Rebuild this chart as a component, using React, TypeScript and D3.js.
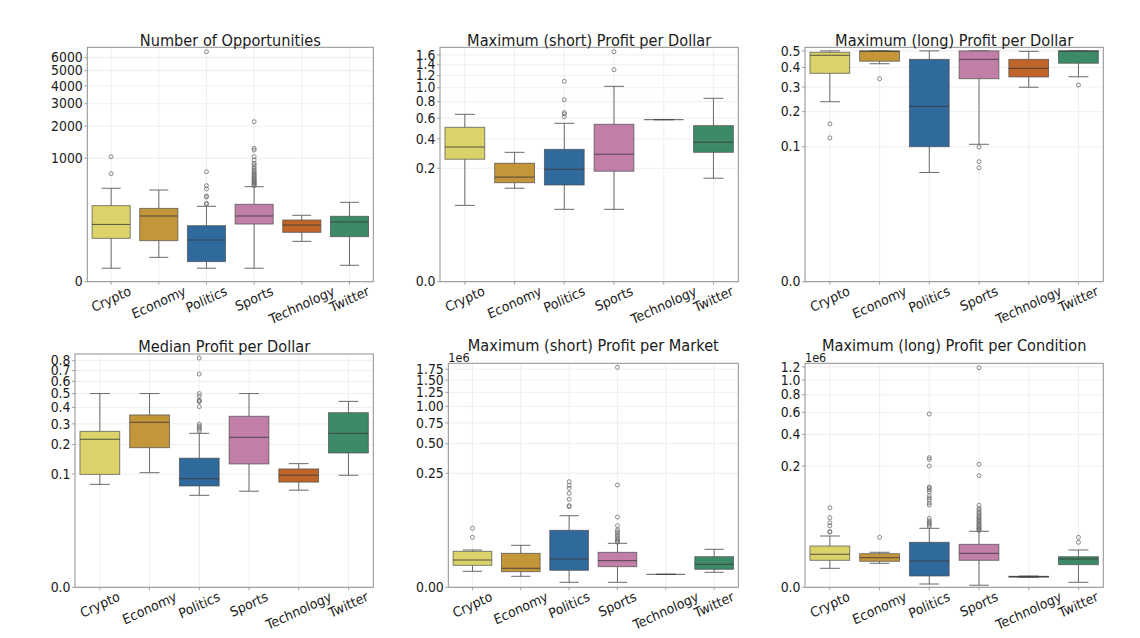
import React from 'react';
import * as d3 from 'd3';

// categories shared by all six panels
const categories = ['Crypto', 'Economy', 'Politics', 'Sports', 'Technology', 'Twitter'];
const palette = ['#dbd36a', '#c4963a', '#30699c', '#c17fa8', '#c0652a', '#3c8a67'];

// box stats per category: [whisker low, q1, median, q3, whisker high]
const opportunitiesStats = [
  [1.3, 43.5, 100, 234, 434],
  [7.7, 36.7, 151, 210, 410],
  [1.3, 4.3, 38.6, 93.5, 228],
  [1.3, 102, 151, 247, 456],
  [35, 64, 97, 125, 156],
  [2.35, 48.5, 113, 149, 266],
];
const opportunitiesOutliers = [
  [670, 1040],
  [],
  [247, 256, 323, 335, 424, 471, 708, 6475],
  [470, 480, 495, 507, 520, 535, 550, 565, 580, 600, 620, 640, 660, 685, 710, 740, 770, 809, 850, 883, 959, 1040, 1215, 1263, 2180],
  [],
  [],
];
const opportunitiesTicks = [0, 1000, 2000, 3000, 4000, 5000, 6000];

const shortDollarStats = [
  [0.061, 0.252, 0.335, 0.505, 0.643],
  [0.112, 0.133, 0.157, 0.228, 0.297],
  [0.052, 0.124, 0.195, 0.318, 0.545],
  [0.052, 0.185, 0.284, 0.535, 1.023],
  [0.583, 0.583, 0.583, 0.583, 0.583],
  [0.152, 0.297, 0.372, 0.521, 0.846],
];
const shortDollarOutliers = [[], [], [0.616, 0.647, 0.662, 0.827, 1.104], [1.307, 1.669], [], []];
const shortDollarTicks = [0, 0.2, 0.4, 0.6, 0.8, 1.0, 1.2, 1.4, 1.6];

const longDollarStats = [
  [0.237, 0.368, 0.472, 0.491, 0.5],
  [0.421, 0.436, 0.497, 0.5, 0.5],
  [0.053, 0.1, 0.219, 0.447, 0.5],
  [0.1055, 0.34, 0.447, 0.5, 0.5],
  [0.299, 0.349, 0.395, 0.447, 0.497],
  [0.35, 0.424, 0.499, 0.5, 0.5],
];
const longDollarOutliers = [[0.121, 0.16], [0.34], [], [0.0602, 0.0703, 0.0995], [], [0.3095]];
const longDollarTicks = [0, 0.1, 0.2, 0.3, 0.4, 0.5];

const medianDollarStats = [
  [0.075, 0.099, 0.223, 0.261, 0.5],
  [0.1035, 0.187, 0.309, 0.352, 0.5],
  [0.0535, 0.0715, 0.088, 0.148, 0.251],
  [0.061, 0.129, 0.232, 0.344, 0.5],
  [0.063, 0.08, 0.097, 0.114, 0.13],
  [0.0966, 0.1666, 0.251, 0.366, 0.442],
];
const medianDollarOutliers = [
  [],
  [],
  [0.262, 0.271, 0.28, 0.288, 0.298, 0.405, 0.44, 0.444, 0.45, 0.481, 0.5, 0.667, 0.829],
  [],
  [],
  [],
];
const medianDollarTicks = [0, 0.1, 0.2, 0.3, 0.4, 0.5, 0.6, 0.7, 0.8];

const shortMarketStats = [
  [690, 1800, 3430, 7870, 8760],
  [225, 640, 1160, 6630, 12500],
  [21, 830, 3830, 31250, 61900],
  [21, 1475, 3180, 7230, 14370],
  [371, 371, 371, 371, 371],
  [570, 985, 2050, 4840, 9260],
];
const shortMarketOutliers = [
  [21100, 34700],
  [],
  [88400, 92000, 115000, 140000, 164000, 179000, 199000],
  [15500, 16500, 17900, 19500, 21900, 24000, 26600, 29000, 31800, 39500, 58600, 180700, 1797000],
  [],
  [],
];
const shortMarketTicks = [0, 250000, 500000, 750000, 1000000, 1250000, 1500000, 1750000];

const longConditionStats = [
  [769, 2206, 4028, 7890, 15130],
  [1550, 1970, 2907, 4250, 4810],
  [4, 162, 2040, 10220, 23020],
  [1, 2206, 4400, 8910, 19680],
  [110, 120, 133, 150, 160],
  [14, 1294, 2541, 3210, 5820],
];
const longConditionOutliers = [
  [18950, 19400, 26200, 30200, 37800, 56500],
  [14000],
  [25000, 27000, 29400, 31000, 33100, 36800, 62500, 67000, 74600, 80000, 86200, 98000, 104000, 109700, 113000, 200000, 235100, 244000, 583400],
  [20500, 21500, 22500, 23500, 24950, 26500, 28000, 30000, 31650, 33500, 35500, 37500, 39450, 42000, 45000, 48000, 51800, 55000, 61800, 155800, 208600, 1187000],
  [],
  [10220, 14000],
];
const longConditionTicks = [0, 200000, 400000, 600000, 800000, 1000000, 1200000];

const FONT = "'DejaVu Sans', sans-serif";
const SQUASH = 0.91;
const TICK_FS = 13.7;
const ROT = 23;

let ctx: CanvasRenderingContext2D | null = null;
function textWidth(s: string, size: number) {
  if (!ctx) ctx = document.createElement('canvas').getContext('2d');
  if (!ctx) return s.length * size * 0.6;
  ctx.font = `${size}px 'DejaVu Sans'`;
  return ctx.measureText(s).width;
}

interface PanelProps {
  title: string;
  stats: number[][];
  outliers: number[][];
  ticks: number[];
  format: (v: number) => string;
  yMax: number;
  box: [number, number, number, number]; // left, right, top, bottom
  titleY: number;
  offset?: string;
}

const BoxPanel: React.FC<PanelProps> = ({ title, stats, outliers, ticks, format, yMax, box, titleY, offset }) => {
  const [L, R, T, B] = box;
  const x = d3.scaleBand<string>().domain(categories).range([L, R]).padding(0);
  const y = d3.scalePow().exponent(1 / 3).domain([0, yMax]).range([B, T]);
  const bw = x.bandwidth() * 0.8;

  return (
    <g>
      {/* grid */}
      {ticks.map((t) => (
        <line key={'gy' + t} x1={L} x2={R} y1={y(t)} y2={y(t)} stroke="#ebebeb" strokeWidth={0.8} />
      ))}
      {categories.map((c) => (
        <line key={'gx' + c} x1={x(c)! + x.bandwidth() / 2} x2={x(c)! + x.bandwidth() / 2} y1={T} y2={B} stroke="#ebebeb" strokeWidth={0.8} />
      ))}

      {/* boxes */}
      {categories.map((c, i) => {
        const cx = x(c)! + x.bandwidth() / 2;
        const [lo, q1, med, q3, hi] = stats[i];
        return (
          <g key={c}>
            <line x1={cx} x2={cx} y1={y(q1)} y2={y(lo)} stroke="#6a6a6a" strokeWidth={1} />
            <line x1={cx} x2={cx} y1={y(q3)} y2={y(hi)} stroke="#6a6a6a" strokeWidth={1} />
            <line x1={cx - bw / 4} x2={cx + bw / 4} y1={y(lo)} y2={y(lo)} stroke="#6a6a6a" strokeWidth={1} />
            <line x1={cx - bw / 4} x2={cx + bw / 4} y1={y(hi)} y2={y(hi)} stroke="#6a6a6a" strokeWidth={1} />
            <rect x={cx - bw / 2} y={y(q3)} width={bw} height={Math.max(0, y(q1) - y(q3))} fill={palette[i]} stroke="#4a4a4a" strokeOpacity={0.75} strokeWidth={0.9} />
            <line x1={cx - bw / 2} x2={cx + bw / 2} y1={y(med)} y2={y(med)} stroke="#3a3a3a" strokeOpacity={0.85} strokeWidth={1} />
            {outliers[i].map((v, j) => (
              <circle key={j} cx={cx} cy={y(v)} r={2} fill="none" stroke="#6e6e6e" strokeWidth={0.8} />
            ))}
          </g>
        );
      })}

      {/* frame */}
      <rect x={L} y={T} width={R - L} height={B - T} fill="none" stroke="#8f8f8f" strokeWidth={1} />

      {/* y axis */}
      {ticks.map((t) => (
        <g key={'ty' + t}>
          <line x1={L - 3} x2={L} y1={y(t)} y2={y(t)} stroke="#8f8f8f" strokeWidth={0.8} />
          <text
            transform={`translate(${L - 4.5},${y(t)}) scale(${SQUASH},1)`}
            textAnchor="end"
            dominantBaseline="central"
            fontSize={TICK_FS}
            fill="#1a1a1a"
          >
            {format(t)}
          </text>
        </g>
      ))}

      {/* x axis */}
      {categories.map((c) => {
        const cx = x(c)! + x.bandwidth() / 2;
        const w = textWidth(c, TICK_FS);
        const h = TICK_FS * 1.1;
        const rad = (ROT * Math.PI) / 180;
        const bh = w * Math.sin(rad) + h * Math.cos(rad);
        return (
          <g key={'tx' + c}>
            <line x1={cx} x2={cx} y1={B} y2={B + 3} stroke="#8f8f8f" strokeWidth={0.8} />
            <text
              transform={`translate(${cx},${B + 1.5 + bh / 2}) scale(${SQUASH},1) rotate(${-ROT})`}
              textAnchor="middle"
              dominantBaseline="central"
              fontSize={TICK_FS}
              fill="#1a1a1a"
            >
              {c}
            </text>
          </g>
        );
      })}

      {offset && (
        <text transform={`translate(${L},${T - 1.5}) scale(${SQUASH},1)`} fontSize={12.4} fill="#1a1a1a">
          {offset}
        </text>
      )}

      <text transform={`translate(${(L + R) / 2},${titleY}) scale(${SQUASH},1)`} textAnchor="middle" fontSize={16} fill="#1a1a1a">
        {title}
      </text>
    </g>
  );
};

const f1 = d3.format('.1f');

export default function App() {
  return (
    <svg
      width={1140}
      height={638}
      style={{ position: 'absolute', left: 0, top: 0, background: '#fff' }}
      fontFamily={FONT}
    >
      <BoxPanel
        title="Number of Opportunities"
        stats={opportunitiesStats}
        outliers={opportunitiesOutliers}
        ticks={opportunitiesTicks}
        format={(v) => String(v)}
        yMax={6853}
        box={[87.3, 373.3, 47.3, 281.7]}
        titleY={45.5}
      />
      <BoxPanel
        title="Maximum (short) Profit per Dollar"
        stats={shortDollarStats}
        outliers={shortDollarOutliers}
        ticks={shortDollarTicks}
        format={f1}
        yMax={1.766}
        box={[440, 738.3, 47.3, 281.7]}
        titleY={45.5}
      />
      <BoxPanel
        title="Maximum (long) Profit per Dollar"
        stats={longDollarStats}
        outliers={longDollarOutliers}
        ticks={longDollarTicks}
        format={f1}
        yMax={0.5237}
        box={[805, 1103.3, 47.3, 281.7]}
        titleY={45.5}
      />
      <BoxPanel
        title="Median Profit per Dollar"
        stats={medianDollarStats}
        outliers={medianDollarOutliers}
        ticks={medianDollarTicks}
        format={f1}
        yMax={0.873}
        box={[75, 373.3, 354, 587.3]}
        titleY={351.5}
      />
      <BoxPanel
        title="Maximum (short) Profit per Market"
        stats={shortMarketStats}
        outliers={shortMarketOutliers}
        ticks={shortMarketTicks}
        format={(v) => (v / 1e6).toFixed(2)}
        yMax={1897000}
        box={[448.3, 738.3, 363.3, 587.3]}
        titleY={351}
        offset="1e6"
      />
      <BoxPanel
        title="Maximum (long) Profit per Condition"
        stats={longConditionStats}
        outliers={longConditionOutliers}
        ticks={longConditionTicks}
        format={(v) => (v / 1e6).toFixed(1)}
        yMax={1260000}
        box={[805, 1103.3, 363.3, 587.3]}
        titleY={351}
        offset="1e6"
      />
    </svg>
  );
}
